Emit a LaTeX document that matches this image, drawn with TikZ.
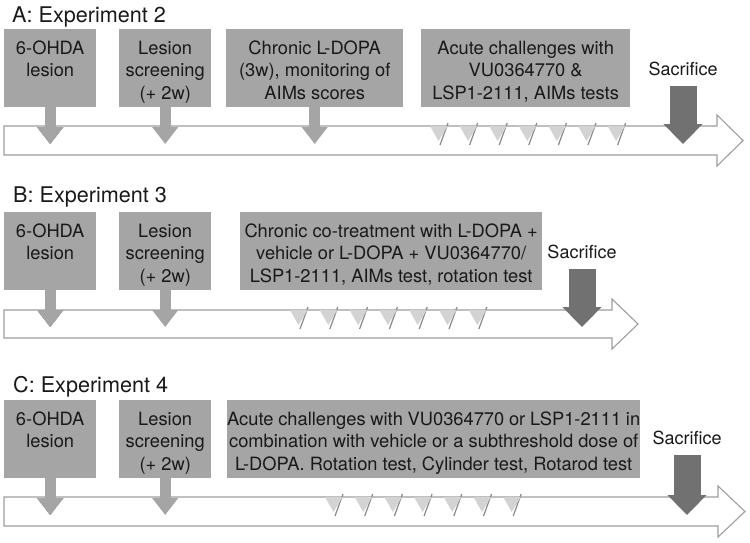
\documentclass[tikz,border=0pt]{standalone}
\usepackage{fontspec}
\setmainfont{TeX Gyre Heros}
\usetikzlibrary{arrows.meta, calc}

\definecolor{boxgray}{HTML}{A5A5A5}
\definecolor{sacgray}{HTML}{717171}
\definecolor{linegray}{HTML}{9E9E9E}
\definecolor{dosegray}{HTML}{D3D3D3}
\definecolor{shadowgray}{HTML}{8A8A8A}

% box content, top aligned
\newcommand{\stagetext}[2]{\parbox[c][78pt][t]{#1}{\centering\rule{0pt}{25pt}#2}}
% open time line arrow: top y, bottom y, end of body, tip x
\newcommand{\timeline}[4]{%
  \filldraw[fill=white, draw=linegray, line width=1.1pt]
    (4,#1) -- (#3,#1) -- (#3,{#1-11}) -- (#4,{(#1+#2)/2})
    -- (#3,{#2+11}) -- (#3,#2) -- (4,#2) -- cycle;}
% one dose marker on the time line
\newcommand{\dosemark}[2]{%
  \draw[shadowgray, line width=1.2pt] ({#1+18},{#2-3}) -- ({#1+10},{#2+19});
  \fill[dosegray] ({#1},{#2}) -- ({#1+17.5},{#2}) -- ({#1+8.5},{#2+15}) -- cycle;}

\begin{document}
\begin{tikzpicture}[x=1pt, y=-1pt,
  stage/.style={fill=boxgray, inner sep=0pt, anchor=north west, text=black!90,
    font=\fontsize{18.3}{22.5}\selectfont},
  title/.style={anchor=base west, inner sep=0pt, text=black!90, font=\fontsize{21.6}{25}\selectfont},
  sac/.style={inner sep=0pt, text=black!90, font=\fontsize{18}{21}\selectfont},
  stemarrow/.style={boxgray, line width=11pt, -{Triangle[width=25pt,length=17pt]}},
  sacarrow/.style={sacgray, line width=27pt, -{Triangle[width=38pt,length=20pt]}}]
\useasboundingbox (0,0) rectangle (750,542);

% A: Experiment 2
\node[title] (ta) at (12,22) {A: Experiment 2};
\node[stage] (a1) at (4,29) {\stagetext{92pt}{6-OHDA\\lesion}};
\node[stage] (a2) at (119,29) {\stagetext{92pt}{Lesion\\screening\\(+ 2w)}};
\node[stage] (a3) at (226,29) {\stagetext{177pt}{Chronic L-DOPA\\(3w), monitoring of\\AIMs scores}};
\node[stage] (a4) at (421,29) {\stagetext{209pt}{Acute challenges with\\VU0364770 \&\\LSP1-2111, AIMs tests}};
\node[sac] (sa) at (683,69) {Sacrifice};
\coordinate (tipA) at (0,144);
\timeline{126}{155}{717}{743}
\foreach \i in {0,...,6}
  \dosemark{430+\i*29.6}{126}
\draw[stemarrow] (a1.south) -- (a1.south |- tipA);
\draw[stemarrow] (a2.south) -- (a2.south |- tipA);
\draw[stemarrow] (a3.south) -- (a3.south |- tipA);
\draw[sacarrow] ([yshift=-10pt]sa.south) -- (sa.south |- tipA);

% B: Experiment 3
\node[title] (tb) at (13,202) {B: Experiment 3};
\node[stage] (b1) at (4,212) {\stagetext{92pt}{6-OHDA\\lesion}};
\node[stage] (b2) at (119,212) {\stagetext{92pt}{Lesion\\screening\\(+ 2w)}};
\node[stage] (b3) at (240,212) {\stagetext{302pt}{Chronic co-treatment with L-DOPA +\\vehicle or L-DOPA + VU0364770/\\LSP1-2111, AIMs test, rotation test}};
\node[sac] (sb) at (582,252) {Sacrifice};
\coordinate (tipB) at (0,327);
\timeline{310}{338}{612}{638}
\foreach \i in {0,...,6}
  \dosemark{290+\i*29.8}{310}
\draw[stemarrow] (b1.south) -- (b1.south |- tipB);
\draw[stemarrow] (b2.south) -- (b2.south |- tipB);
\draw[sacarrow] ([yshift=-10pt]sb.south) -- (sb.south |- tipB);

% C: Experiment 4
\node[title] (tc) at (13,392) {C: Experiment 4};
\node[stage] (c1) at (4,400) {\stagetext{92pt}{6-OHDA\\lesion}};
\node[stage] (c2) at (119,400) {\stagetext{92pt}{Lesion\\screening\\(+ 2w)}};
\node[stage] (c3) at (227,400) {\stagetext{413pt}{Acute challenges with VU0364770 or LSP1-2111 in\\combination with vehicle or a subthreshold dose of\\L-DOPA. Rotation test, Cylinder test, Rotarod test}};
\node[sac] (sc) at (687,438) {Sacrifice};
\coordinate (tipC) at (0,515);
\timeline{497}{526}{718}{745}
\foreach \i in {0,...,6}
  \dosemark{325+\i*29.7}{497}
\draw[stemarrow] (c1.south) -- (c1.south |- tipC);
\draw[stemarrow] (c2.south) -- (c2.south |- tipC);
\draw[sacarrow] ([yshift=-10pt]sc.south) -- (sc.south |- tipC);
\end{tikzpicture}
\end{document}
